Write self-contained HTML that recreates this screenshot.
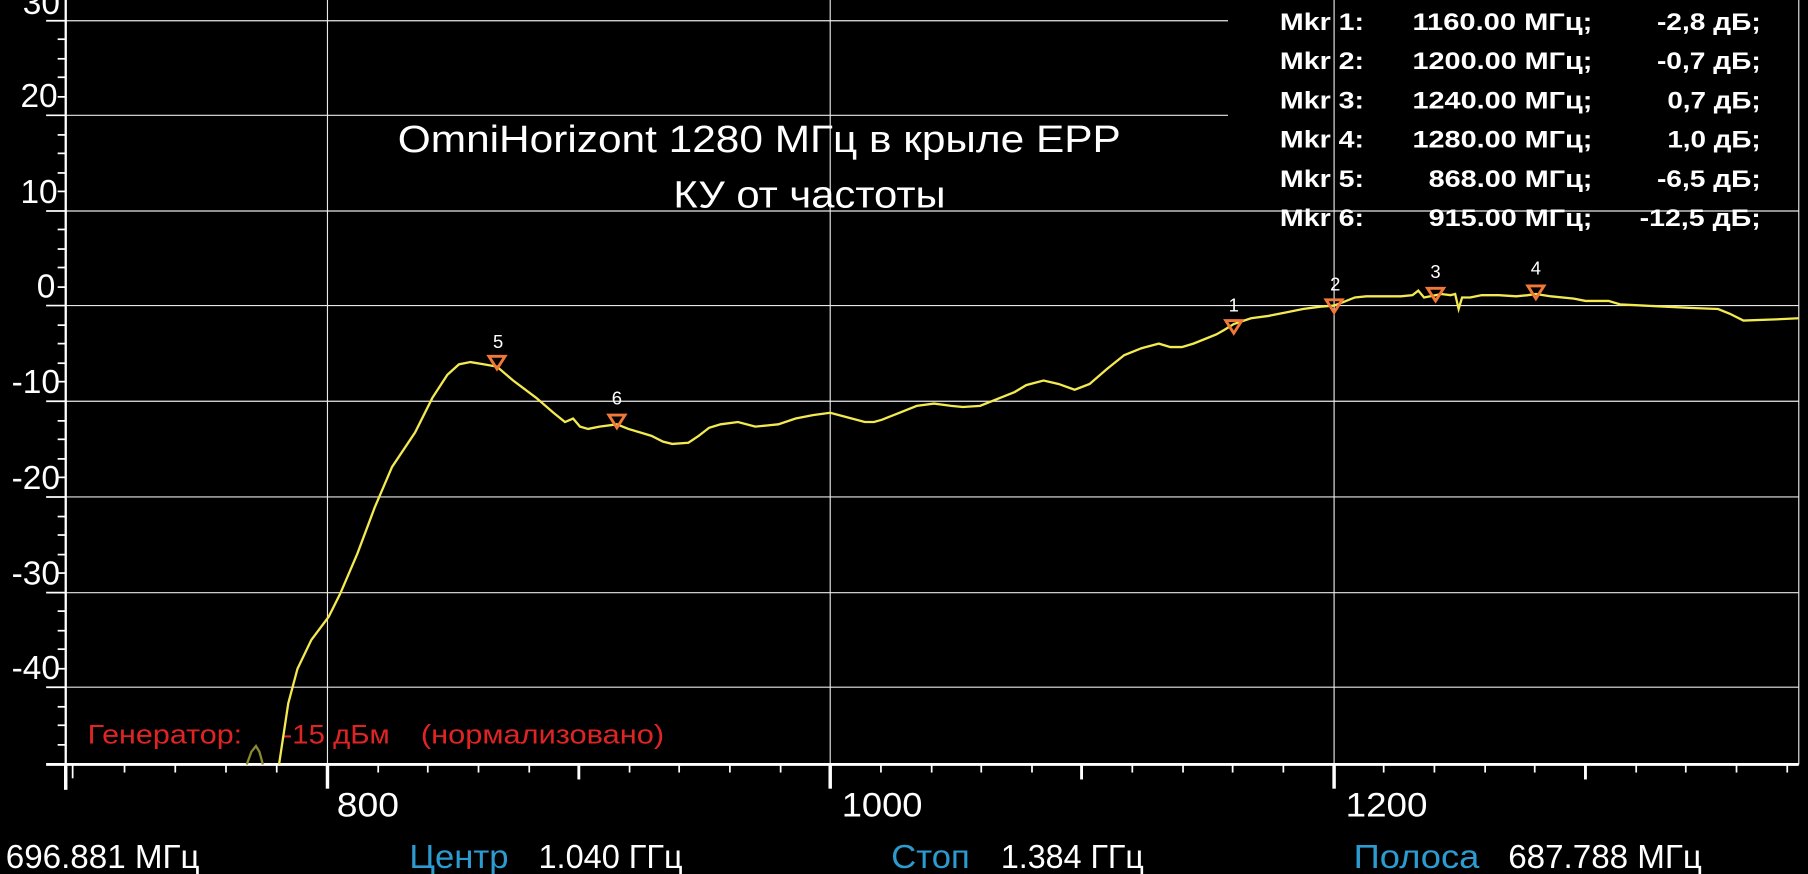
<!DOCTYPE html>
<html><head><meta charset="utf-8"><style>
html,body{margin:0;padding:0;background:#000;overflow:hidden}
svg{display:block}
text{font-family:"Liberation Sans","DejaVu Sans",sans-serif}
</style></head><body>
<svg width="1808" height="874" viewBox="0 0 1568 758" preserveAspectRatio="none" xmlns="http://www.w3.org/2000/svg">
<rect width="1568" height="758" fill="#000"/>
<g stroke="#e8e8e8" stroke-width="1">
<line x1="57" y1="18" x2="1065" y2="18"/>
<line x1="57" y1="100" x2="1065" y2="100"/>
<line x1="57" y1="183" x2="1560" y2="183"/>
<line x1="57" y1="265" x2="1560" y2="265"/>
<line x1="57" y1="348" x2="1560" y2="348"/>
<line x1="57" y1="431" x2="1560" y2="431"/>
<line x1="57" y1="514" x2="1560" y2="514"/>
<line x1="57" y1="596" x2="1560" y2="596"/>
<line x1="284" y1="0" x2="284" y2="663"/>
<line x1="720" y1="0" x2="720" y2="663"/>
<line x1="1157" y1="0" x2="1157" y2="663"/>
<line x1="1560" y1="0" x2="1560" y2="663"/>
</g>
<line x1="57" y1="0" x2="57" y2="663" stroke="#fff" stroke-width="2"/>
<line x1="40" y1="663" x2="1560" y2="663" stroke="#fff" stroke-width="2.5"/>
<g stroke="#fff" stroke-width="1.5">
<line x1="40" y1="18" x2="57" y2="18"/><line x1="40" y1="100" x2="57" y2="100"/><line x1="40" y1="183" x2="57" y2="183"/><line x1="40" y1="265" x2="57" y2="265"/><line x1="40" y1="348" x2="57" y2="348"/><line x1="40" y1="431" x2="57" y2="431"/><line x1="40" y1="514" x2="57" y2="514"/><line x1="40" y1="596" x2="57" y2="596"/>
<line x1="50" y1="34" x2="57" y2="34"/><line x1="50" y1="51" x2="57" y2="51"/><line x1="50" y1="67" x2="57" y2="67"/><line x1="50" y1="84" x2="57" y2="84"/>
<line x1="50" y1="117" x2="57" y2="117"/><line x1="50" y1="133" x2="57" y2="133"/><line x1="50" y1="150" x2="57" y2="150"/><line x1="50" y1="166" x2="57" y2="166"/>
<line x1="50" y1="199" x2="57" y2="199"/><line x1="50" y1="216" x2="57" y2="216"/><line x1="50" y1="232" x2="57" y2="232"/><line x1="50" y1="249" x2="57" y2="249"/>
<line x1="50" y1="282" x2="57" y2="282"/><line x1="50" y1="298" x2="57" y2="298"/><line x1="50" y1="315" x2="57" y2="315"/><line x1="50" y1="331" x2="57" y2="331"/>
<line x1="50" y1="365" x2="57" y2="365"/><line x1="50" y1="381" x2="57" y2="381"/><line x1="50" y1="398" x2="57" y2="398"/><line x1="50" y1="414" x2="57" y2="414"/>
<line x1="50" y1="448" x2="57" y2="448"/><line x1="50" y1="464" x2="57" y2="464"/><line x1="50" y1="481" x2="57" y2="481"/><line x1="50" y1="497" x2="57" y2="497"/>
<line x1="50" y1="530" x2="57" y2="530"/><line x1="50" y1="547" x2="57" y2="547"/><line x1="50" y1="563" x2="57" y2="563"/><line x1="50" y1="580" x2="57" y2="580"/>
<line x1="50" y1="613" x2="57" y2="613"/><line x1="50" y1="629" x2="57" y2="629"/><line x1="50" y1="646" x2="57" y2="646"/>
</g>
<g stroke="#fff" stroke-width="1.5">
<line x1="57" y1="663" x2="57" y2="685" stroke-width="3"/><line x1="63" y1="663" x2="63" y2="675"/>
<line x1="108" y1="663" x2="108" y2="670"/><line x1="152" y1="663" x2="152" y2="670"/><line x1="196" y1="663" x2="196" y2="670"/><line x1="240" y1="663" x2="240" y2="670"/>
<line x1="284" y1="663" x2="284" y2="684" stroke-width="3"/>
<line x1="328" y1="663" x2="328" y2="670"/><line x1="371" y1="663" x2="371" y2="670"/><line x1="415" y1="663" x2="415" y2="670"/><line x1="459" y1="663" x2="459" y2="670"/>
<line x1="502" y1="663" x2="502" y2="676" stroke-width="2.5"/>
<line x1="546" y1="663" x2="546" y2="670"/><line x1="589" y1="663" x2="589" y2="670"/><line x1="633" y1="663" x2="633" y2="670"/><line x1="677" y1="663" x2="677" y2="670"/>
<line x1="720" y1="663" x2="720" y2="684" stroke-width="3"/>
<line x1="764" y1="663" x2="764" y2="670"/><line x1="808" y1="663" x2="808" y2="670"/><line x1="851" y1="663" x2="851" y2="670"/><line x1="895" y1="663" x2="895" y2="670"/>
<line x1="938" y1="663" x2="938" y2="676" stroke-width="2.5"/>
<line x1="982" y1="663" x2="982" y2="670"/><line x1="1026" y1="663" x2="1026" y2="670"/><line x1="1069" y1="663" x2="1069" y2="670"/><line x1="1113" y1="663" x2="1113" y2="670"/>
<line x1="1157" y1="663" x2="1157" y2="684" stroke-width="3"/>
<line x1="1200" y1="663" x2="1200" y2="670"/><line x1="1244" y1="663" x2="1244" y2="670"/><line x1="1288" y1="663" x2="1288" y2="670"/><line x1="1331" y1="663" x2="1331" y2="670"/>
<line x1="1375" y1="663" x2="1375" y2="676" stroke-width="2.5"/>
<line x1="1419" y1="663" x2="1419" y2="670"/><line x1="1462" y1="663" x2="1462" y2="670"/><line x1="1506" y1="663" x2="1506" y2="670"/><line x1="1550" y1="663" x2="1550" y2="670"/>
</g>
<g fill="#fff" font-size="29" text-anchor="end">
<text x="52" y="12">30</text><text x="50" y="93">20</text><text x="50" y="176">10</text><text x="48" y="258">0</text>
<text x="52" y="341">-10</text><text x="52" y="424">-20</text><text x="52" y="507">-30</text><text x="52" y="589">-40</text>
</g>
<g fill="#fff" font-size="30" lengthAdjust="spacingAndGlyphs">
<text x="292" y="708" textLength="54" lengthAdjust="spacingAndGlyphs">800</text>
<text x="730" y="708" textLength="70" lengthAdjust="spacingAndGlyphs">1000</text>
<text x="1167" y="708" textLength="71" lengthAdjust="spacingAndGlyphs">1200</text>
</g>
<g font-size="29">
<text x="5" y="753" fill="#fff" textLength="168" lengthAdjust="spacingAndGlyphs">696.881 МГц</text>
<text x="355" y="753" fill="#2b9bd0" textLength="86" lengthAdjust="spacingAndGlyphs">Центр</text><text x="467" y="753" fill="#fff" textLength="125" lengthAdjust="spacingAndGlyphs">1.040 ГГц</text>
<text x="773" y="753" fill="#2b9bd0" textLength="68" lengthAdjust="spacingAndGlyphs">Стоп</text><text x="868" y="753" fill="#fff" textLength="124" lengthAdjust="spacingAndGlyphs">1.384 ГГц</text>
<text x="1174" y="753" fill="#2b9bd0" textLength="109" lengthAdjust="spacingAndGlyphs">Полоса</text><text x="1308" y="753" fill="#fff" textLength="168" lengthAdjust="spacingAndGlyphs">687.788 МГц</text>
</g>
<g fill="#fff" font-size="33">
<text x="345" y="132" textLength="627" lengthAdjust="spacingAndGlyphs">OmniHorizont 1280 МГц в крыле EPP</text>
<text x="584" y="180" textLength="236" lengthAdjust="spacingAndGlyphs">КУ от частоты</text>
</g>
<g fill="#fff" font-size="21" font-weight="bold">
<text x="1110" y="26" textLength="73" lengthAdjust="spacingAndGlyphs">Mkr 1:</text><text x="1225" y="26" textLength="156" lengthAdjust="spacingAndGlyphs">1160.00 МГц;</text><text x="1437" y="26" textLength="90" lengthAdjust="spacingAndGlyphs">-2,8 дБ;</text>
<text x="1110" y="60" textLength="73" lengthAdjust="spacingAndGlyphs">Mkr 2:</text><text x="1225" y="60" textLength="156" lengthAdjust="spacingAndGlyphs">1200.00 МГц;</text><text x="1437" y="60" textLength="90" lengthAdjust="spacingAndGlyphs">-0,7 дБ;</text>
<text x="1110" y="94" textLength="73" lengthAdjust="spacingAndGlyphs">Mkr 3:</text><text x="1225" y="94" textLength="156" lengthAdjust="spacingAndGlyphs">1240.00 МГц;</text><text x="1446" y="94" textLength="81" lengthAdjust="spacingAndGlyphs">0,7 дБ;</text>
<text x="1110" y="128" textLength="73" lengthAdjust="spacingAndGlyphs">Mkr 4:</text><text x="1225" y="128" textLength="156" lengthAdjust="spacingAndGlyphs">1280.00 МГц;</text><text x="1446" y="128" textLength="81" lengthAdjust="spacingAndGlyphs">1,0 дБ;</text>
<text x="1110" y="162" textLength="73" lengthAdjust="spacingAndGlyphs">Mkr 5:</text><text x="1239" y="162" textLength="142" lengthAdjust="spacingAndGlyphs">868.00 МГц;</text><text x="1437" y="162" textLength="90" lengthAdjust="spacingAndGlyphs">-6,5 дБ;</text>
<text x="1110" y="196" textLength="73" lengthAdjust="spacingAndGlyphs">Mkr 6:</text><text x="1239" y="196" textLength="142" lengthAdjust="spacingAndGlyphs">915.00 МГц;</text><text x="1422" y="196" textLength="105" lengthAdjust="spacingAndGlyphs">-12,5 дБ;</text>
</g>
<g fill="#e02424" font-size="23">
<text x="76" y="645" textLength="134" lengthAdjust="spacingAndGlyphs">Генератор:</text>
<text x="245" y="645" textLength="93" lengthAdjust="spacingAndGlyphs">-15 дБм</text>
<text x="365" y="645" textLength="211" lengthAdjust="spacingAndGlyphs">(нормализовано)</text>
</g>
<polyline fill="none" stroke="#8a8a30" stroke-width="2" points="214,663 218,652 222,647 225,652 228,663"/>
<polyline fill="none" stroke="#f2ea50" stroke-width="2" points="242,663 250,610 258,580 270,555 285,535 295,515 310,480 325,440 340,405 360,375 375,345 388,325 398,316 408,314 420,316 431,318 445,330 465,345 480,358 490,366 497,363 503,370 510,372 520,370 535,368 545,372 555,375 565,378 575,383 583,385 597,384 606,378 615,371 625,368 640,366 655,370 665,369 675,368 690,363 705,360 720,358 735,362 750,366 758,366 765,364 780,358 795,352 810,350 825,352 835,353 850,352 865,346 880,340 890,334 905,330 918,333 932,338 945,333 960,320 975,308 990,302 1005,298 1015,301 1025,301 1035,298 1045,294 1055,290 1062,286 1070,281 1085,276 1100,274 1115,271 1130,268 1145,266 1157,265 1165,262 1175,258 1185,257 1200,257 1215,257 1225,256 1230,252 1235,258 1240,257 1250,255 1258,256 1262,255 1265,268 1268,258 1275,258 1285,256 1300,256 1315,257 1325,256 1332,255 1345,257 1365,259 1375,261 1385,261 1395,261 1405,264 1425,265 1445,266 1465,267 1490,268 1500,272 1512,278 1540,277 1560,276"/>
<g fill="none" stroke="#f07838" stroke-width="2.5">
<polygon points="424,309 438,309 431,320"/>
<polygon points="528,360 542,360 535,371"/>
<polygon points="1063,278 1077,278 1070,289"/>
<polygon points="1150,260 1164,260 1157,271"/>
<polygon points="1238,250 1252,250 1245,261"/>
<polygon points="1325,248 1339,248 1332,259"/>
</g>
<g fill="#fff" font-size="16" text-anchor="middle">
<text x="432" y="302">5</text><text x="535" y="351">6</text><text x="1070" y="270">1</text><text x="1158" y="252">2</text><text x="1245" y="241">3</text><text x="1332" y="238">4</text>
</g>
</svg>
</body></html>
